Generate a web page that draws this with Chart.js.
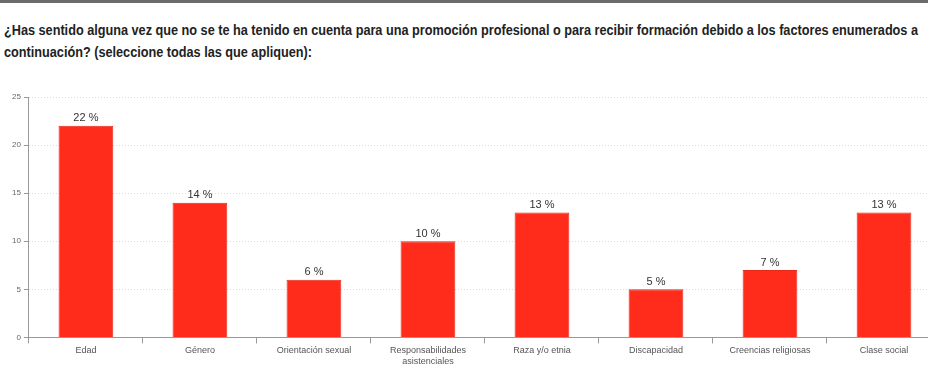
<!DOCTYPE html>
<html>
<head>
<meta charset="utf-8">
<script src="https://cdn.jsdelivr.net/npm/chart.js@4.4.1/dist/chart.umd.min.js"></script>
<style>
  html, body { margin: 0; padding: 0; background: #fff; overflow: hidden; }
  body { width: 928px; height: 376px; position: relative; }
  .topbar { position: absolute; left: 0; top: 0; width: 928px; height: 3px; background: #6b6b6b; }
  .title {
    position: absolute; left: 4px; top: 19px;
    font-family: "Liberation Sans", Arial, sans-serif; font-weight: bold;
    font-size: 14px; line-height: 22px; color: #222; white-space: nowrap;
    transform-origin: 0 0;
  }
  .wrap { position: absolute; left: 0; top: 80px; width: 965px; height: 296px; }
</style>
</head>
<body>
<div class="topbar"></div>
<div class="title" id="title">¿Has sentido alguna vez que no se te ha tenido en cuenta para una promoción profesional o para recibir formación debido a los factores enumerados a<br>continuación? (seleccione todas las que apliquen):</div>
<div class="wrap"><canvas id="chart" width="965" height="296"></canvas></div>
<script>
// Categories and values (percent)
const categories = [
    'Edad', 'Género', 'Orientación sexual', ['Responsabilidades', 'asistenciales'],
    'Raza y/o etnia', 'Discapacidad', 'Creencias religiosas', 'Clase social'
];
const values = [22, 14, 6, 10, 13, 5, 7, 13];
const yTicks = [0, 5, 10, 15, 20, 25];

// squeeze the title so its first line ends where the reference's does
const title = document.getElementById('title');
title.style.transform = 'scaleX(' + (914 / title.offsetWidth) + ')';

// Draw "22 %" labels above bars
const valueLabels = {
    id: 'valueLabels',
    afterDatasetsDraw(chart) {
        const ctx = chart.ctx;
        const meta = chart.getDatasetMeta(0);
        ctx.save();
        ctx.font = '11px "Liberation Sans", Arial, sans-serif';
        ctx.fillStyle = '#333';
        ctx.textAlign = 'center';
        ctx.textBaseline = 'bottom';
        meta.data.forEach((bar, i) => {
            ctx.fillText(values[i] + ' %', bar.x, bar.y - 2);
        });
        ctx.restore();
    }
};

const ctx = document.getElementById('chart');
new Chart(ctx, {
    type: 'bar',
    data: {
        labels: categories,
        datasets: [{
            data: values,
            backgroundColor: '#ff2c1c',
            borderColor: '#e8281a',
            borderWidth: 1,
            barPercentage: 0.48,
            categoryPercentage: 1.0
        }]
    },
    options: {
        responsive: false,
        animation: false,
        devicePixelRatio: 1,
        layout: { padding: { top: 17, right: 24, left: 9, bottom: 7 } },
        plugins: { legend: { display: false }, tooltip: { enabled: false } },
        scales: {
            x: {
                grid: { offset: true, drawOnChartArea: false, drawTicks: true, tickLength: 6, tickColor: '#999' },
                border: { color: '#999' },
                ticks: {
                    color: '#555', padding: 2, maxRotation: 0, autoSkip: false,
                    font: { family: '"Liberation Sans", Arial, sans-serif', size: 9 }
                }
            },
            y: {
                min: 0, max: 25,
                afterBuildTicks(scale) { scale.ticks = yTicks.map(v => ({ value: v })); },
                grid: { color: '#dcdcdc', tickColor: '#999', tickLength: 5, tickBorderDash: [] },
                border: { color: '#999', dash: [1, 2] },
                ticks: {
                    color: '#666', padding: 3,
                    font: { family: '"Liberation Sans", Arial, sans-serif', size: 8 }
                }
            }
        }
    },
    plugins: [valueLabels]
});
</script>
</body>
</html>
